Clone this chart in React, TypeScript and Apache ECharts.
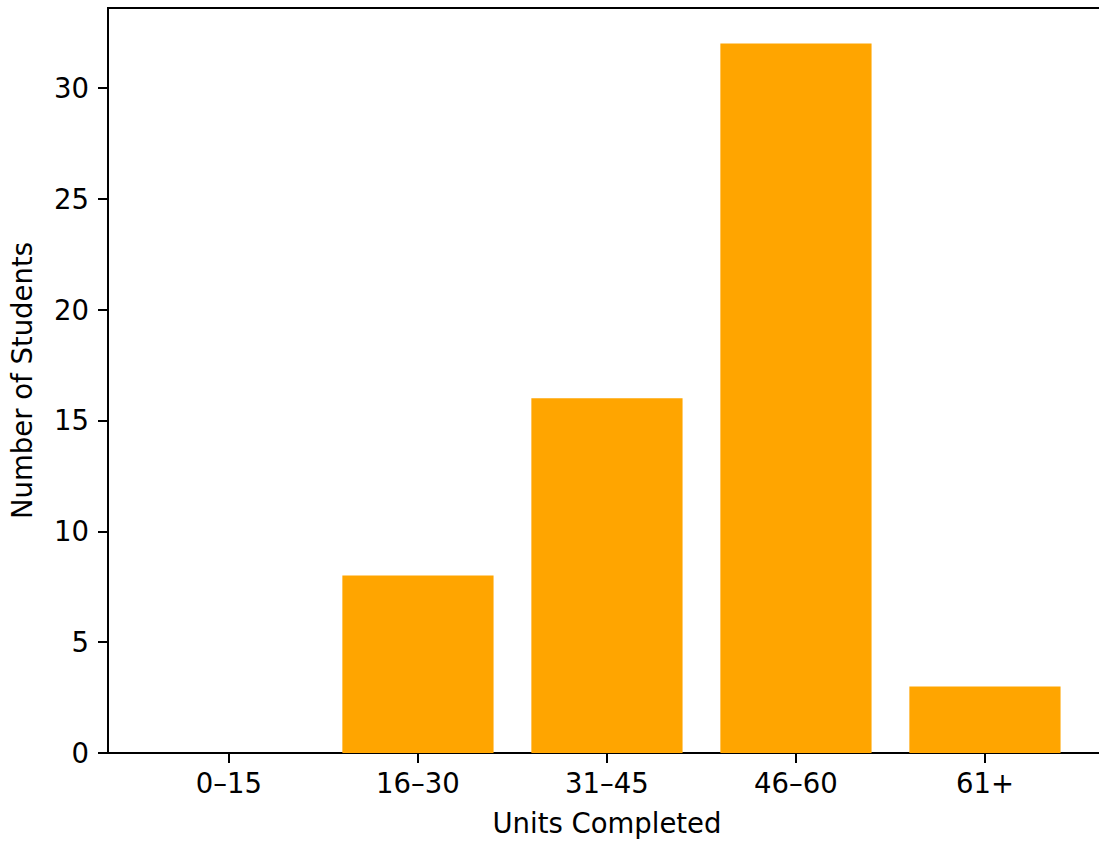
import React, { useEffect, useRef } from "react";
import * as echarts from "echarts";

const categories = ["0–15", "16–30", "31–45", "46–60", "61+"];
const studentCounts = [0, 8, 16, 32, 3];
const yTicks = [0, 5, 10, 15, 20, 25, 30];
const xTicks = [0, 1, 2, 3, 4];

const FONT = "DejaVu Sans";
const FS = 27.5;

export default function App() {
  const ref = useRef<HTMLDivElement>(null);
  useEffect(() => {
    if (!ref.current) return;
    const chart = echarts.init(ref.current, undefined, { renderer: "svg" });
    const gridLeft = 108;
    const gridTop = 8;
    const gridHeight = 745;
    const xMin = -0.64;
    const xMax = 4.64;
    const unit = 189;
    const gridWidth = (xMax - xMin) * unit;
    chart.setOption({
      animation: false,
      backgroundColor: "#ffffff",
      textStyle: { fontFamily: FONT },
      grid: {
        left: gridLeft,
        top: gridTop,
        width: gridWidth,
        height: gridHeight,
        show: true,
        borderColor: "#000000",
        borderWidth: 2,
        backgroundColor: "transparent",
        containLabel: false,
      },
      xAxis: {
        type: "value",
        min: xMin,
        max: xMax,
        name: "Units Completed",
        nameLocation: "middle",
        nameGap: 56,
        nameTextStyle: { fontFamily: FONT, fontSize: FS, color: "#000" },
        splitLine: { show: false },
        axisLine: { show: true, onZero: false, lineStyle: { color: "#000", width: 2 } },
        axisTick: {
          show: true,
          customValues: xTicks,
          length: 10,
          inside: false,
          lineStyle: { color: "#000", width: 2 },
        },
        axisLabel: {
          customValues: xTicks,
          margin: 16,
          fontFamily: FONT,
          fontSize: FS,
          color: "#000",
          formatter: (v: number) => categories[Math.round(v)] ?? "",
        },
      },
      yAxis: {
        type: "value",
        min: 0,
        max: 33.6,
        name: "Number of Students",
        nameLocation: "middle",
        nameRotate: 90,
        nameGap: 72,
        nameTextStyle: { fontFamily: FONT, fontSize: FS, color: "#000" },
        splitLine: { show: false },
        axisLine: { show: true, onZero: false, lineStyle: { color: "#000", width: 2 } },
        axisTick: {
          show: true,
          customValues: yTicks,
          length: 10,
          lineStyle: { color: "#000", width: 2 },
        },
        axisLabel: {
          customValues: yTicks,
          margin: 19,
          fontFamily: FONT,
          fontSize: FS,
          color: "#000",
        },
      },
      series: [
        {
          type: "bar",
          data: studentCounts.map((v, i) => [i, v]),
          barWidth: 0.8 * unit,
          itemStyle: { color: "#FFA500" },
        },
      ],
    });
    return () => chart.dispose();
  }, []);
  return (
    <div
      style={{
        position: "fixed",
        left: 0,
        top: 0,
        width: 1099,
        height: 844,
        overflow: "hidden",
        background: "#fff",
      }}
    >
      <div ref={ref} style={{ width: 1120, height: 844 }} />
    </div>
  );
}
